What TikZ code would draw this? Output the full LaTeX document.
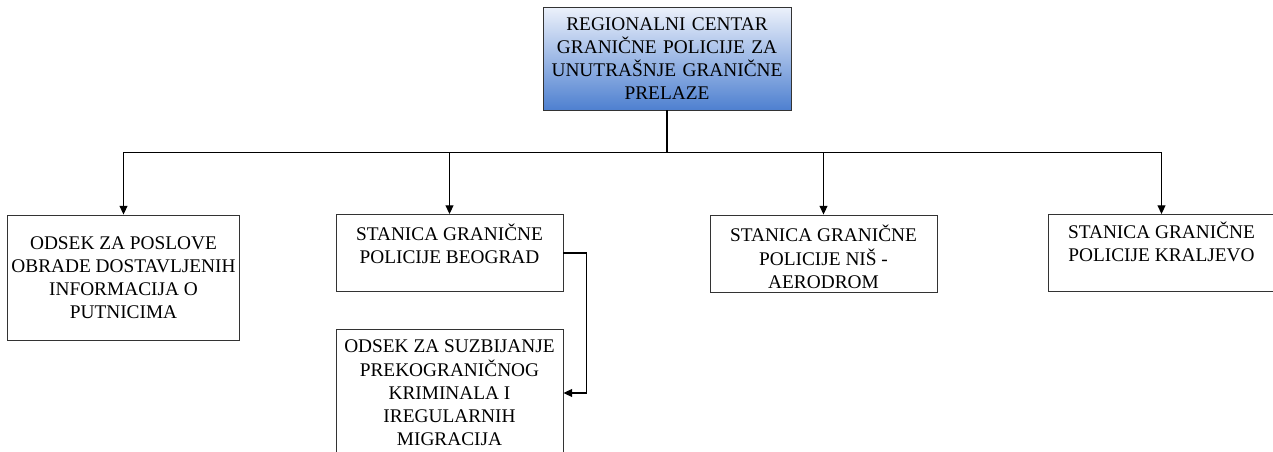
\documentclass[tikz,border=0pt]{standalone}
\usepackage{fontspec}
\setmainfont{Liberation Serif}
\usepackage{tikz}
\usetikzlibrary{arrows.meta, positioning}
\definecolor{headTop}{RGB}{236,241,251}
\definecolor{headBottom}{RGB}{78,128,208}

\begin{document}
\begin{tikzpicture}[x=0.02cm, y=-0.02cm]
    \tikzstyle{every node} = [font=\fontsize{11}{13.2}\selectfont]
    \tikzstyle{block} = [draw=black!80, line width=0.5pt, rectangle, fill=white, align=center, inner sep=2pt, minimum width=4.54cm, minimum height=1.54cm]
    \tikzstyle{link} = [line width=0.7pt, -{Triangle[width=4.5pt, length=5pt]}]
    \clip (0,0) rectangle (1273,452);
    % place nodes
    \node[block, top color=headTop, bottom color=headBottom, minimum width=4.96cm, minimum height=2.06cm, text width=4.7cm] (centar) at (667,58.5)
        {REGIONALNI CENTAR\\GRANIČNE POLICIJE ZA\\UNUTRAŠNJE GRANIČNE\\PRELAZE};
    \node[block, minimum height=2.5cm] (odsekObrada) at (123.5,277.5)
        {ODSEK ZA POSLOVE\\OBRADE DOSTAVLJENIH\\INFORMACIJA O\\PUTNICIMA};
    \node[block, text depth=11pt] (stBeograd) at (449.5,253)
        {STANICA GRANIČNE\\POLICIJE BEOGRAD};
    \node[block, text height=39.5pt, text depth=0pt] (stNis) at (823.5,253.5)
        {STANICA GRANIČNE\\POLICIJE NIŠ -\\AERODROM};
    \node[block, text depth=13pt] (stKraljevo) at (1161.5,253)
        {STANICA GRANIČNE\\POLICIJE KRALJEVO};
    \node[block, minimum height=2.56cm] (odsekSuzb) at (449.5,393)
        {ODSEK ZA SUZBIJANJE\\PREKOGRANIČNOG\\KRIMINALA I\\IREGULARNIH\\MIGRACIJA};
    % Connections
    \coordinate (busL) at (123.5,152.5);
    \coordinate (busR) at (1161.5,152.5);
    \draw[line width=0.7pt] (centar.south) -- (centar.south |- busL);
    \draw[line width=0.7pt] (busL) -- (busR);
    \foreach \n in {odsekObrada, stBeograd, stNis, stKraljevo}
        \draw[link] (\n.north |- busL) -- (\n.north);
    \draw[link] (stBeograd.east) -- ++(23,0) |- (odsekSuzb.east);
\end{tikzpicture}
\end{document}
